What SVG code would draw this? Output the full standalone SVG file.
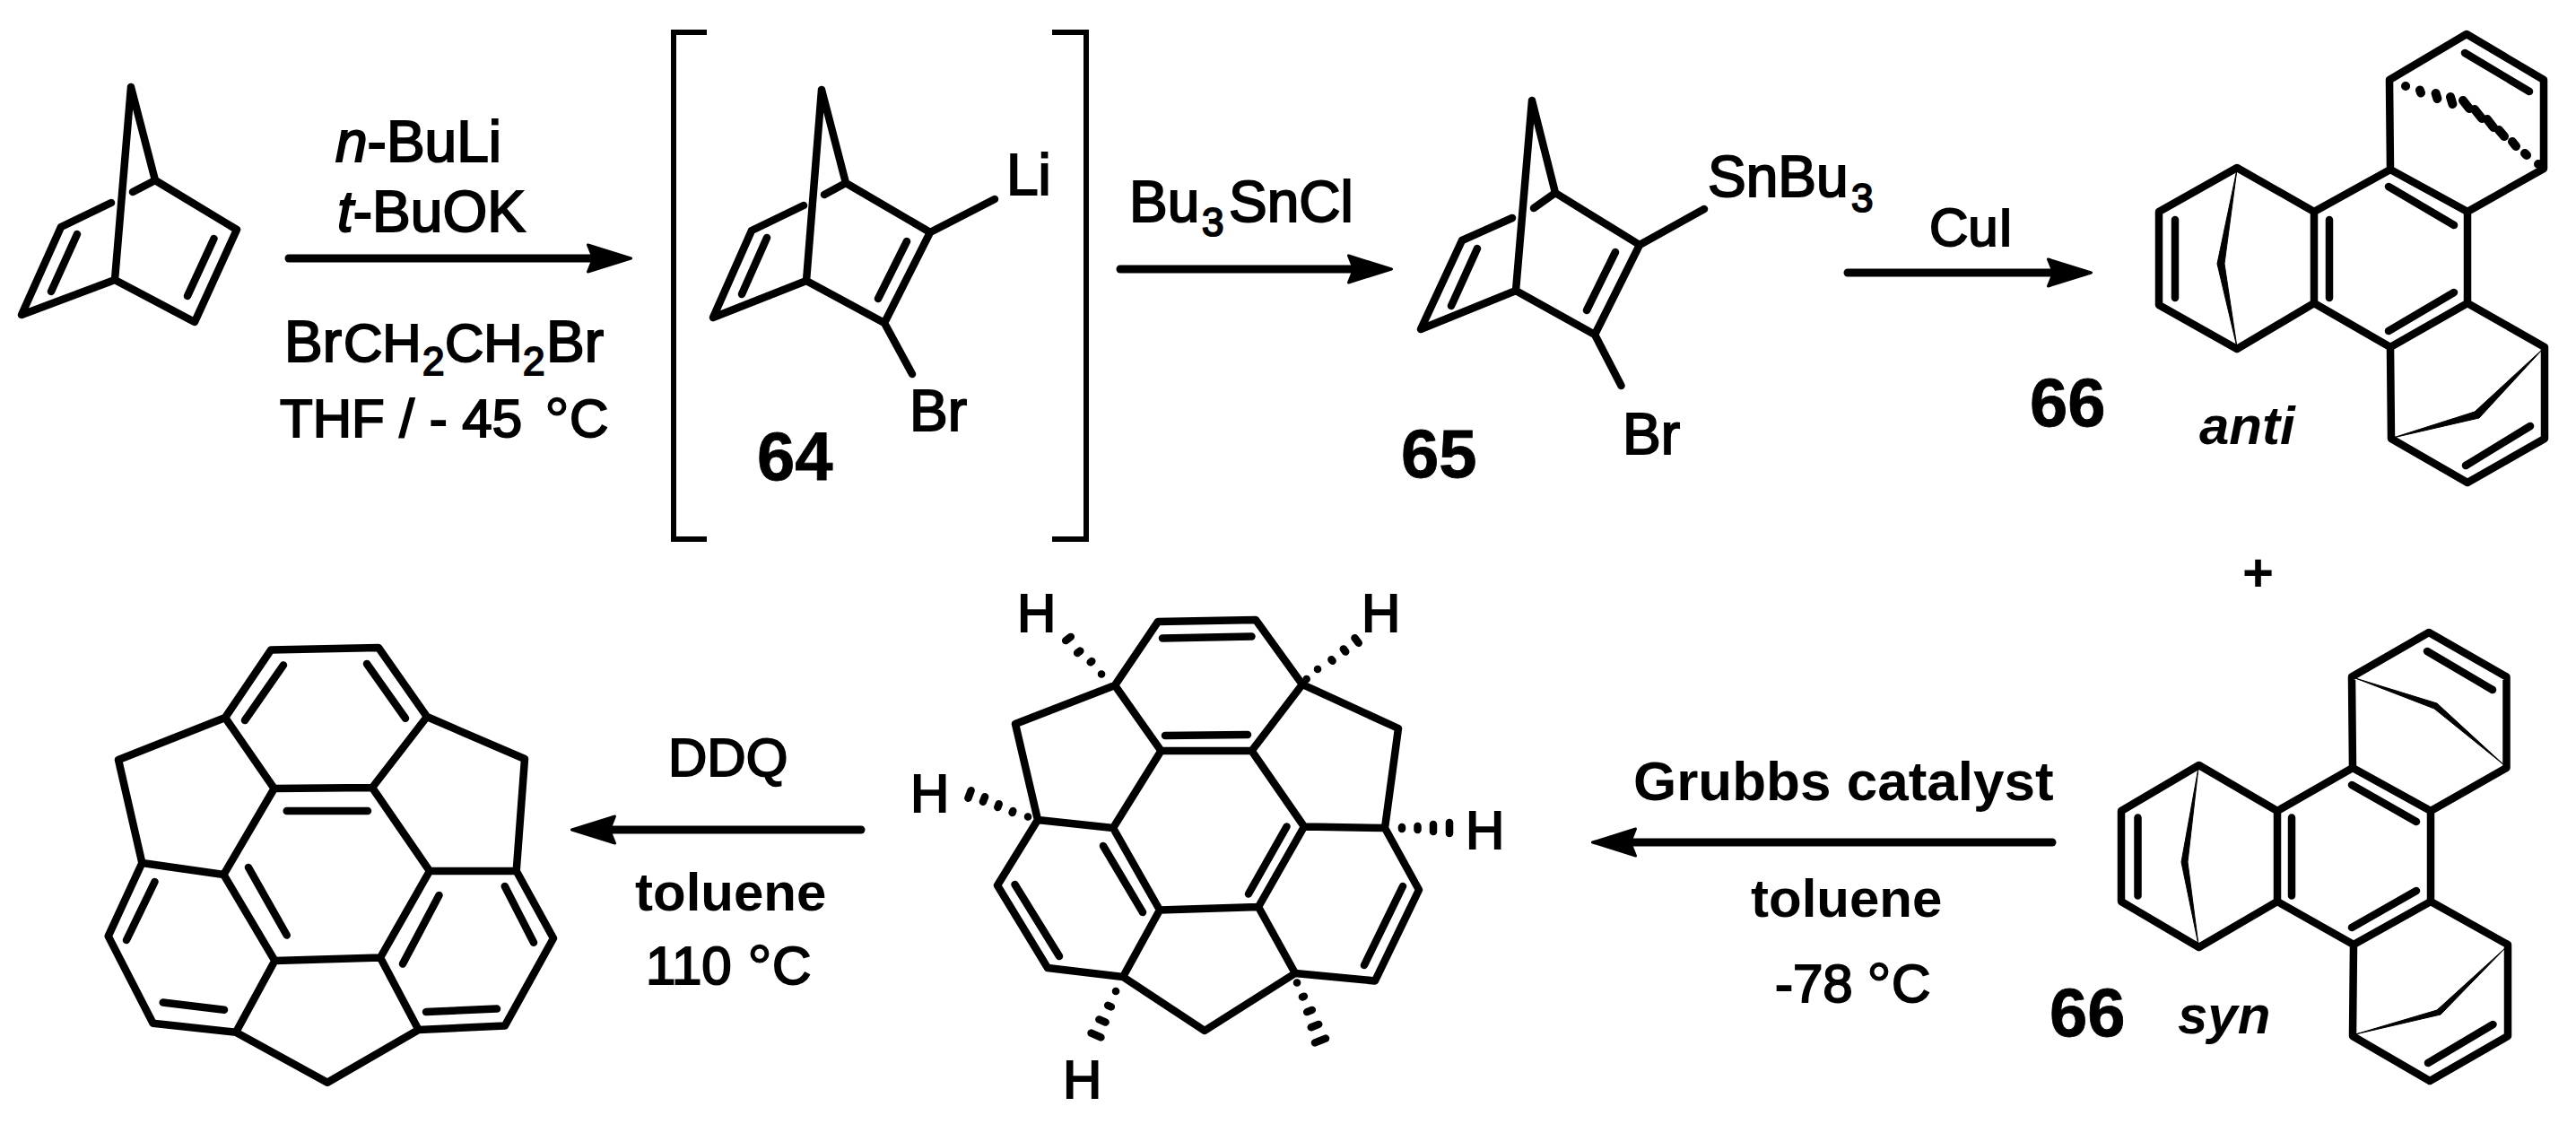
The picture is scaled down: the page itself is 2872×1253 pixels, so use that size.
<svg xmlns="http://www.w3.org/2000/svg" width="2872" height="1253" viewBox="0 0 2872 1253">
<style>
.bond{fill:none;stroke:#000;stroke-width:8.5;stroke-linecap:round;stroke-linejoin:round}
.hash{fill:none;stroke:#000;stroke-width:8.5;stroke-linecap:round}
.hash2{fill:none;stroke:#000;stroke-width:10;stroke-linecap:round}
.bridge{fill:#000;stroke:#000;stroke-width:1;stroke-linejoin:round}
.br{fill:none;stroke:#000;stroke-width:6;stroke-linejoin:miter}
.arrow{fill:none;stroke:#000;stroke-width:9;stroke-linecap:round}
text{font-family:"Liberation Sans",Arial,sans-serif;font-size:60px;fill:#000}
.r{stroke:#000;stroke-width:2}
.big{font-size:64px}
.b{font-weight:700}
.n{font-weight:700;font-size:76px;stroke:#000;stroke-width:.8}
.i{font-style:italic}
.bi{font-weight:700;font-style:italic}
.sub{font-size:44px}
.deg{font-size:70px;stroke-width:1.2}
</style>
<defs>
<marker id="head" markerUnits="userSpaceOnUse" viewBox="0 0 52 34" markerWidth="52" markerHeight="34" refX="6" refY="17" orient="auto">
<path d="M2,2 L50,17 L2,32 L8,17 Z" fill="#000" stroke="#000" stroke-width="3" stroke-linejoin="round"/>
</marker>
</defs>
<rect width="2872" height="1253" fill="#fff"/>

<g id="connectors">
<path class="arrow" marker-end="url(#head)" d="M322,288 L659.5,288"/>
<path class="arrow" marker-end="url(#head)" d="M1249,300 L1507.5,300"/>
<path class="arrow" marker-end="url(#head)" d="M2060,304 L2287.5,304"/>
<path class="arrow" marker-end="url(#head)" d="M2288,939 L1819.5,939"/>
<path class="arrow" marker-end="url(#head)" d="M960,925 L681.5,925"/>
</g>

<g id="norbornadiene">
<path class="bond" d="M146,97 L128,312 M146,97 L173,201 L264,256 L217,359 L128,312 L24,351 L68,253 L124,226 M148,214 L173,201 M86,261 L57,325 M238.5,266 L209,330"/>
</g>

<g id="reagents-1">
<text class="r big" x="374" y="180"><tspan class="i">n</tspan>-BuLi</text>
<text class="r big" x="376" y="258"><tspan class="i">t</tspan>-BuOK</text>
<text class="r" y="403"><tspan class="big" x="317">Br</tspan><tspan x="383">CH</tspan><tspan class="sub" x="471" dy="15">2</tspan><tspan x="496" dy="-15">CH</tspan><tspan class="sub" x="583" dy="15">2</tspan><tspan class="big" x="609" dy="-15">Br</tspan></text>
<text class="r" y="486.5"><tspan x="312">THF / - 45</tspan><tspan class="deg" x="607" dy="6">°</tspan><tspan x="635" dy="-6">C</tspan></text>
</g>

<g id="compound-64">
<path class="br" d="M788,36 H751 V601 H788 M1173,36 H1211 V601 H1173"/>
<path class="bond" d="M916,100 L899,313 M916,100 L943,204 L1037,259 L986,360 L899,313 L795,354 L838,257 L896,229 M919,217 L943,204 M855,265 L827,328 M1011,269 L979,333 M1037,259 L1109,222 M986,360 L1017,417"/>
<text class="r big" x="1122" y="217">Li</text>
<text class="r big" x="1014" y="480">Br</text>
<text class="n" x="844" y="535">64</text>
</g>

<g id="reagents-2">
<text class="r big" y="246.5"><tspan x="1259">Bu</tspan><tspan class="sub" x="1340" dy="16">3</tspan><tspan x="1370" dy="-16">SnCl</tspan></text>
</g>

<g id="compound-65">
<path class="bond" d="M1708,112 L1690,324 M1708,112 L1734,215 L1828,273 L1778,373 L1690,324 L1584,367 L1630,268 L1686,243 M1710,232 L1734,215 M1647,277 L1618,341 M1801,281 L1769,346 M1828,273 L1900,233 M1778,373 L1807.5,430"/>
<text class="r big" y="219"><tspan x="1904">SnBu</tspan><tspan class="sub" x="2064" dy="17">3</tspan></text>
<text class="r big" x="1809" y="506">Br</text>
<text class="n" x="1562" y="532">65</text>
</g>

<g id="reagents-3">
<text class="r" x="2151" y="274">CuI</text>
</g>

<g id="compound-66-anti">
<path class="bond" d="M2750,38 L2664,89 L2665,189 L2751,236 L2836,188 L2836,89 Z M2665,189 L2580,236 L2580,338 L2665,387 L2751,338 L2751,236 M2580,236 L2494,187 L2407,236 L2407,340 L2494,389 L2580,338 M2751,338 L2837,387 L2837,489 L2751,538 L2666,489 L2665,387 M2748,59 L2820,102 M2663,208 L2736,251 M2597,245 L2597,332 M2425,245 L2425,332 M2736,326 L2663,369 M2821,475 L2749,519"/>
<path class="bridge" d="M2494,189 L2480,294 L2494,387 L2472,294 Z M2835,389 L2764,466 L2668,488 L2759,459 Z"/>
<path class="hash2" d="M2682,96 h.1 M2698,100.5 l1,3 M2715.6,104 l1.8,6 M2732,108 l2.4,8 M2746,112 l7,9 M2759,122 l8,10 M2773,133 l7,9 M2786,145 l6,7 M2801,158 l4,5 M2815,171 l2,2 M2830,183 h.1"/>
<text class="n" x="2263" y="475">66</text>
<text class="bi" x="2452" y="495">anti</text>
</g>

<text id="plus" class="b" x="2500" y="659">+</text>

<g id="compound-66-syn">
<path class="bond" d="M2708,705 L2622,754.5 L2623,856 L2710,904 L2794.5,856 L2794.5,754.5 Z M2623,856 L2539,904 L2539,1005 L2624,1053 L2710,1005 L2710,904 M2539,904 L2451.6,853 L2365,904 L2365,1005 L2451.6,1056 L2539,1005 M2710,1005 L2796,1053 L2796,1155 L2709,1205 L2623,1155 L2624,1053 M2706,726 L2779,769 M2622,875 L2694,916 M2555,911.5 L2555,998.5 M2383.5,911.5 L2383.5,998.5 M2694,993 L2622,1034 M2779.5,1142 L2707,1185"/>
<path class="bridge" d="M2451,856 L2439,961 L2451,1053 L2432,961 Z M2626,756 L2717,784 L2792,853 L2714,790 Z M2794,1056 L2721,1131 L2626,1153 L2717,1126 Z"/>
<text class="n" x="2285" y="1155">66</text>
<text class="bi" x="2428" y="1152">syn</text>
</g>

<g id="reagents-4">
<text class="b" x="1821" y="892" style="font-size:62px">Grubbs catalyst</text>
<text class="b" x="1952" y="1022">toluene</text>
<text class="r" y="1117"><tspan x="1979">-78</tspan><tspan class="deg" x="2081" dy="6">°</tspan><tspan x="2109" dy="-6">C</tspan></text>
</g>

<g id="tetrahydro-intermediate">
<path class="bond" d="M1291,693 L1400,691 L1452,763 L1395.5,837 L1294.5,837 L1243,764 Z M1243,764 L1132,807 L1157,914 L1241,923 L1294.5,837 M1452,763 L1559,812 L1544,923 L1454,921.5 L1395.5,837 M1241,923 L1293,1014.5 L1403,1011 L1454,921.5 M1157,914 L1112,987 L1168,1079 L1252,1089 L1293,1014.5 M1544,923 L1582,992 L1533,1093.5 L1444,1085 L1403,1011 M1252,1089 L1343,1149 L1444,1085 M1296,711.5 L1395.5,709.6 M1299,820 L1391,819 M1230,943 L1274,1017 M1434.5,921.5 L1392,996.5 M1131.5,986 L1181,1066 M1564,988 L1521,1076"/>
<path class="hash" d="M1228,751.4 h.1 M1215.7,738.3 l1.6,-1.2 M1201.1,728 l3.2,-2.4 M1188.2,714.1 l5.6,-4.2
M1456.6,757 h.1 M1469,746 h.1 M1484.4,735.2 l1.2,1.6 M1497.8,723.4 l2.4,3.2 M1510.5,711.2 l4.2,5.6
M1146,910.5 h.1 M1128.6,906 l.7,-1.9 M1112.3,899.9 l1.4,-3.7 M1095.9,893.8 l2.2,-5.6 M1079.4,889.7 l3.2,-8.4
M1563,922 v2 M1580.5,921 v4 M1598,919 v8 M1616,917 v12
M1244,1105 h.1 M1235.2,1120.8 l3.6,1.6 M1225.4,1136.4 l7.2,3.2 M1216.6,1151.6 l10.8,4.8
M1446,1095.4 h.1 M1452,1111.4 l1.9,-.7 M1457.2,1128.1 l5.6,-2.2 M1461.8,1145.2 l8.4,-3.3 M1466,1162.4 l12,-4.8"/>
<text class="r" x="1134" y="704">H</text>
<text class="r" x="1518" y="704">H</text>
<text class="r" x="1015" y="905">H</text>
<text class="r" x="1634" y="946">H</text>
<text class="r" x="1185" y="1224">H</text>
</g>

<g id="reagents-5">
<text class="r" x="745" y="865">DDQ</text>
<text class="b" x="708" y="1015">toluene</text>
<text class="r" y="1097"><tspan x="720">110</tspan><tspan class="deg" x="833" dy="6">°</tspan><tspan x="861" dy="-6">C</tspan></text>
</g>

<g id="product">
<path class="bond" d="M302,724.6 L422,722 L476,799 L415,878 L305.7,879 L251,800 Z M251,800 L132,847 L158.4,962 L249.4,975 L305.7,879 M476,799 L585,846 L575.7,971 L479,971 L415,878 M249.4,975 L306.4,1071 L424,1067.5 L479,971 M158.4,962 L120.7,1043.6 L170.6,1140.7 L263,1150.7 L306.4,1071 M575.7,971 L617,1046 L562.8,1143.6 L466.6,1148 L424,1067.5 M263,1150.7 L365,1206.8 L466.6,1148 M316,741.4 L273,803 M409,740 L452,800.7 M319.7,904 L410,904 M277,967 L319.7,1042.5 M489.5,998 L449,1074.6 M172.5,983 L141,1048 M562.8,988 L595,1050.7 M181.7,1117.5 L250,1125.7 M475,1128 L554,1124.6"/>
</g>
</svg>
